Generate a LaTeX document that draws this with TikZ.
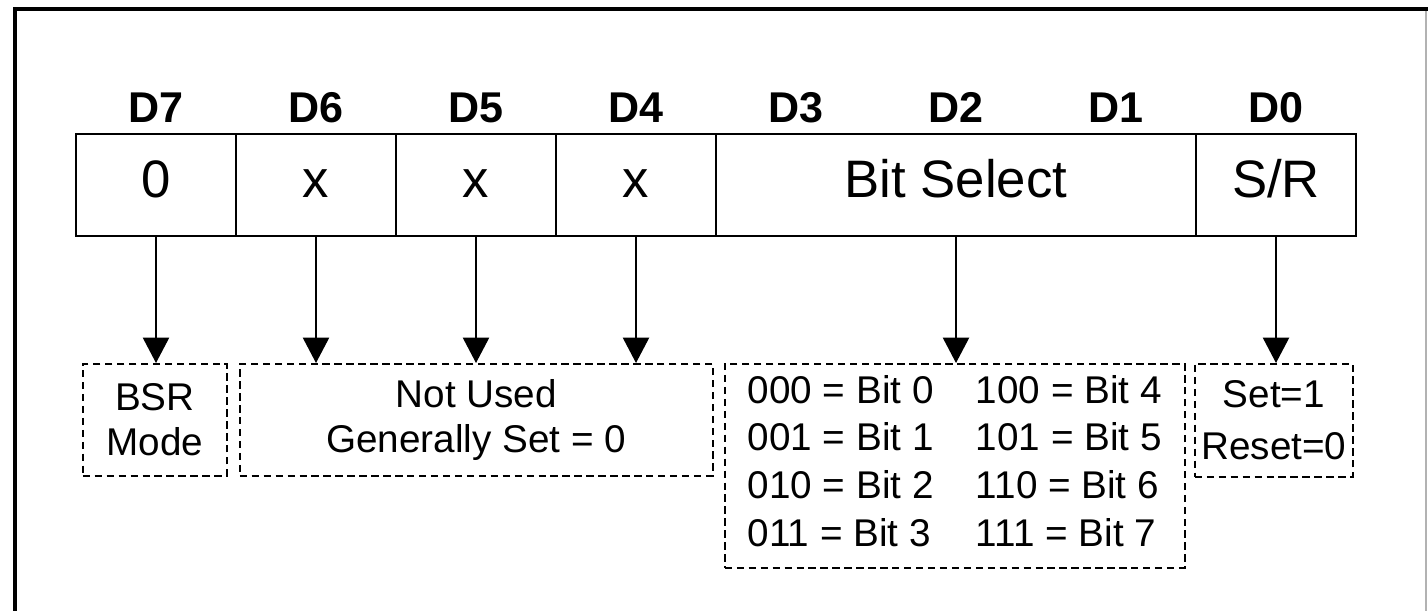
\documentclass[tikz,border=0pt]{standalone}
\usepackage{fontspec}
\setmainfont{Liberation Sans}
\usepackage{xcolor}
\usepackage{tikz}
\usetikzlibrary{arrows.meta, positioning}
\tikzset{
  regcell/.style={
    draw, line width=1.4pt, outer sep=0pt, inner sep=0pt,
    minimum width=3.2cm, minimum height=2.04cm,
    font=\fontsize{30}{34}\selectfont, text height=17pt, text depth=2.2pt
  },
  bitlabel/.style={
    anchor=base, inner sep=0pt, font=\bfseries\fontsize{24.5}{28}\selectfont
  },
  notebox/.style={
    draw, dash pattern=on 4.2pt off 2.6pt, line width=0.9pt,
    anchor=north west, align=center, inner sep=0pt,
    font=\fontsize{22}{25.6}\selectfont
  },
  bitarrow/.style={
    -{Triangle[length=14.5pt, width=15pt]}, line width=0.85pt
  },
}

\begin{document}
\begin{tikzpicture}
  \useasboundingbox (0,0) rectangle (28.56,12.22);

  % Frame
  \draw[line width=1.8pt] (28.56,12.04) -- (0.30,12.04) -- (0.30,0);
  \draw[gray!60, line width=0.6pt] (28.52,12.0) -- (28.52,0);

  % Register
  \node[regcell] (c7) at (3.12,8.52) {0};
  \node[regcell, right=0pt of c7] (c6) {x};
  \node[regcell, right=0pt of c6] (c5) {x};
  \node[regcell, right=0pt of c5] (c4) {x};
  \node[regcell, right=0pt of c4, minimum width=9.6cm] (cbs) {Bit Select};
  \node[regcell, right=0pt of cbs] (c0) {S/R};

  % Bit numbers
  \foreach \i in {0,...,7}
    \node[bitlabel] (d\i) at ({3.12+3.2*(7-\i)},9.76) {D\i};

  % Notes
  \node[notebox, minimum width=2.88cm, minimum height=2.24cm] (bsr)
    at (1.64,4.96) {BSR\\Mode};
  \node[notebox, minimum width=9.46cm, minimum height=2.24cm] (unused)
    at (4.78,4.96) {Not Used\\Generally Set = 0};
  \node[notebox, minimum width=9.2cm, minimum height=4.08cm] (sel)
    at (14.48,4.96) {%
      \begin{tabular}{@{}l@{\hspace{24pt}}l@{}}
        000 = Bit 0 & 100 = Bit 4\\[1.5pt]
        001 = Bit 1 & 101 = Bit 5\\[1.5pt]
        010 = Bit 2 & 110 = Bit 6\\[1.5pt]
        011 = Bit 3 & 111 = Bit 7
      \end{tabular}};
  \node[notebox, minimum width=3.16cm, minimum height=2.26cm,
    font=\fontsize{22}{30}\selectfont] (setreset)
    at (23.88,4.96) {Set=1\\Reset=0};

  % Arrows
  \draw[bitarrow] (c7.south) -- (c7.south |- bsr.north);
  \foreach \c in {c6,c5,c4}
    \draw[bitarrow] (\c.south) -- (\c.south |- unused.north);
  \draw[bitarrow] (cbs.south) -- (cbs.south |- sel.north);
  \draw[bitarrow] (c0.south) -- (c0.south |- setreset.north);
\end{tikzpicture}
\end{document}
